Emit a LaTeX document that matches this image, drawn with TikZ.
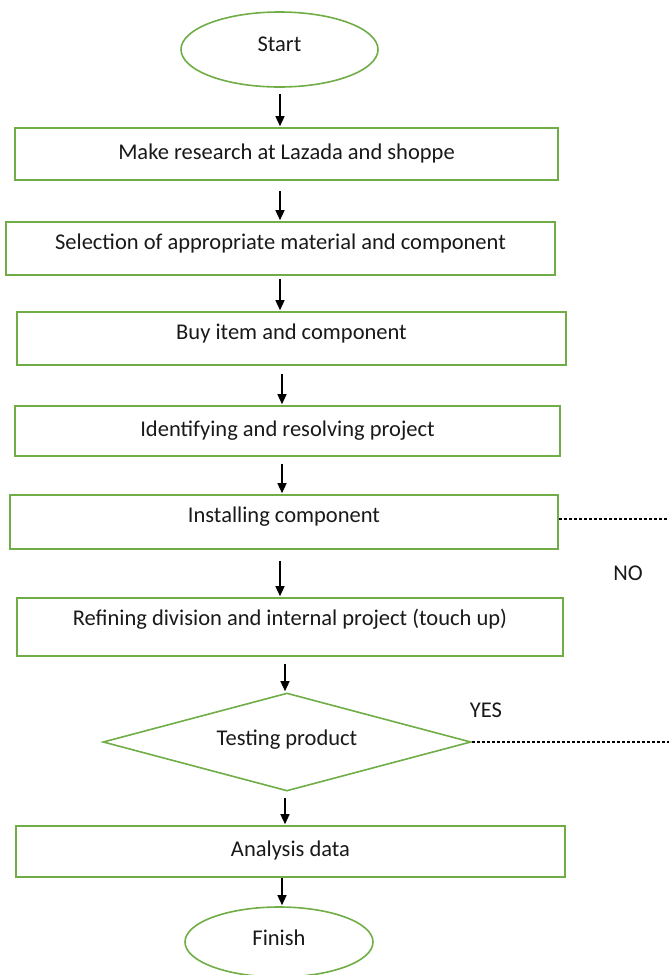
\documentclass[tikz,border=0pt]{standalone}
\usepackage{fontspec}
\setmainfont{Carlito}
\usetikzlibrary{shapes.geometric,arrows.meta}
\definecolor{boxgreen}{RGB}{112,173,71}
\begin{document}
\begin{tikzpicture}[x=1pt,y=-1pt,
  every node/.style={font=\fontsize{22.5}{27}\selectfont, text=black!90},
  tx/.style={text height=16pt, text depth=#1},
  stepbox/.style={draw=boxgreen, line width=1.6pt, rectangle, inner sep=0pt},
  term/.style={draw=boxgreen, line width=1.6pt, ellipse, inner sep=0pt},
  decide/.style={draw=boxgreen, line width=1.6pt, diamond, inner sep=0pt, aspect=3.75},
  arr/.style={draw=black, line width=1.4pt, -{Triangle[width=9pt,length=10pt]}, shorten <=7pt, shorten >=1pt},
  dashline/.style={draw=black, line width=1.1pt, dash pattern=on 3pt off 2pt},
]
\useasboundingbox (0,0) rectangle (669,975);

\node[term, tx=13pt, minimum width=197pt, minimum height=75pt] (start) at (279.5,49.5) {Start};
\node[stepbox, tx=5pt, minimum width=543pt, minimum height=52pt] (b1) at (286.5,154) {Make research at Lazada and shoppe};
\node[stepbox, tx=15pt, minimum width=549pt, minimum height=53pt] (b2) at (280.5,248.5) {Selection of appropriate material and component};
\node[stepbox, tx=15pt, minimum width=549pt, minimum height=53pt] (b3) at (291.5,338.5) {Buy item and component};
\node[stepbox, tx=5pt, minimum width=545pt, minimum height=50pt] (b4) at (287.5,431) {Identifying and resolving project};
\node[stepbox, tx=15pt, minimum width=548pt, minimum height=54pt] (b5) at (284,522) {Installing component};
\node[stepbox, tx=19pt, minimum width=546pt, minimum height=58pt] (b6) at (290,627) {Refining division and internal project (touch up)};
\node[decide, tx=9pt, minimum width=368pt, minimum height=98pt] (d) at (287,742) {Testing product};
\node[stepbox, tx=7pt, minimum width=549pt, minimum height=51pt] (b7) at (290.5,851.5) {Analysis data};
\node[term, tx=9pt, minimum width=188pt, minimum height=70pt] (finish) at (279,942) {Finish};

\node (no) at (628,573) {NO};
\node (yes) at (486,710) {YES};

\coordinate (xa) at (280,0);
\coordinate (xb) at (282,0);
\coordinate (xc) at (285,0);
\coordinate (redge) at (669,519);

\draw[arr, shorten <=6pt] (start.south -| xa) -- (b1.north -| xa);
\draw[arr, shorten <=10pt] (b1.south -| xa) -- (b2.north -| xa);
\draw[arr, shorten <=3pt] (b2.south -| xa) -- (b3.north -| xa);
\draw[arr, shorten <=8pt] (b3.south -| xb) -- (b4.north -| xb);
\draw[arr, shorten <=7pt] (b4.south -| xb) -- (b5.north -| xb);
\draw[arr, shorten <=11pt] (b5.south -| xa) -- (b6.north -| xa);
\draw[arr, shorten <=7pt] (b6.south -| xc) -- (d.north -| xc);
\draw[arr, shorten <=6pt] (d.south -| xc) -- (b7.north -| xc);
\draw[arr, shorten <=0pt] (b7.south -| xb) -- (finish.north -| xb);

\draw[dashline] (b5.east |- redge) -- (redge);
\draw[dashline] (d.east) -- (d.east -| redge);
\end{tikzpicture}
\end{document}
